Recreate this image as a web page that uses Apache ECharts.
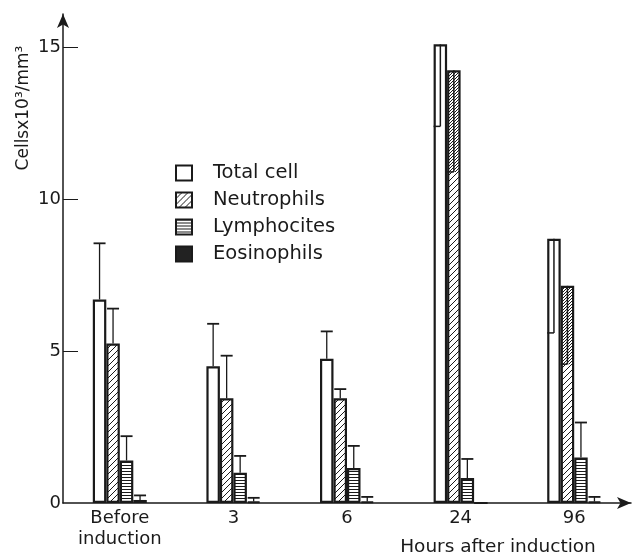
<!DOCTYPE html>
<html>
<head>
<meta charset="utf-8">
<script src="https://cdn.jsdelivr.net/npm/echarts@6/dist/echarts.min.js"></script>
<style>
html,body{margin:0;padding:0;background:#fff;}
#chart{width:637px;height:555px;}
</style>
</head>
<body>
<div id="chart"></div>
<script>
// ---- data ----
const categories = ['Before\ninduction', '3', '6', '24', '96'];
const seriesNames = ['Total cell', 'Neutrophils', 'Lymphocites', 'Eosinophils'];
const totalCell   = [6.7, 4.5, 4.75, 15.1, 8.7];
const neutrophils = [5.25, 3.45, 3.45, 14.25, 7.15];
const lymphocites = [1.4, 1.0, 1.15, 0.82, 1.5];
const eosinophils = [0.1, 0.05, 0.05, 0, 0.05];
// end value of each error bar (above the bar = upward, below the top = drawn inside the bar)
const totalErrEnd = [8.55, 5.9, 5.65, 12.4, 5.6];
const neutroErrEnd = [6.4, 4.85, 3.75, 10.9, 4.57];
const lymphoErrEnd = [2.2, 1.55, 1.88, 1.45, 2.65];
const eosErrEnd = [0.25, 0.17, 0.2, null, 0.2];
const yTicks = [0, 5, 10, 15];

// ---- styles ----
const INK = '#1a1a1a';
const FONT = 'DejaVu Sans';
const BAR_W = 13.5;

function hatchPattern(size, offset, bg) {
  const c = document.createElement('canvas');
  c.width = size; c.height = size;
  const g = c.getContext('2d');
  if (bg) { g.fillStyle = bg; g.fillRect(0, 0, size, size); }
  g.strokeStyle = INK; g.lineWidth = 1;
  g.beginPath();
  for (let d = -size; d <= 2 * size; d += size) {
    g.moveTo(d + offset - size, size);
    g.lineTo(d + offset, 0);
  }
  g.stroke();
  return c;
}
function stripePattern() {
  const c = document.createElement('canvas');
  c.width = 4; c.height = 3;
  const g = c.getContext('2d');
  g.fillStyle = '#fff'; g.fillRect(0, 0, 4, 3);
  g.fillStyle = INK; g.fillRect(0, 0, 4, 1);
  return c;
}
const hatch = { image: hatchPattern(6, 0, '#fff'), repeat: 'repeat' };
const hatch2 = { image: hatchPattern(6, 3, null), repeat: 'repeat' };
const stripes = { image: stripePattern(), repeat: 'repeat' };

const fills = ['#ffffff', hatch, stripes, '#222222'];
const values = [totalCell, neutrophils, lymphocites, eosinophils];
const errEnds = [totalErrEnd, neutroErrEnd, lymphoErrEnd, eosErrEnd];

const barSeries = seriesNames.map((name, k) => ({
  name: name,
  type: 'bar',
  barWidth: BAR_W,
  barGap: '0%',
  data: values[k],
  itemStyle: { color: fills[k], borderColor: INK, borderWidth: 2.2 },
  emphasis: { disabled: true },
  z: 2
}));

const errData = [];
errEnds.forEach((arr, k) => {
  arr.forEach((e, i) => {
    if (e !== null) errData.push([i, values[k][i], e, k]);
  });
});

function renderErr(params, api) {
  const cat = api.value(0), val = api.value(1), end = api.value(2), k = api.value(3);
  const p1 = api.coord([cat, val]);
  const p2 = api.coord([cat, end]);
  const x = p1[0] + (k - 1.5) * BAR_W;
  const children = [];
  if (end >= val) {
    children.push({ type: 'line', shape: { x1: x, y1: p1[1], x2: x, y2: p2[1] }, style: { stroke: INK, lineWidth: 1.3 } });
    children.push({ type: 'line', shape: { x1: x - 6, y1: p2[1], x2: x + 6, y2: p2[1] }, style: { stroke: INK, lineWidth: 1.8 } });
  } else {
    if (k === 1) {
      children.push({ type: 'rect', shape: { x: x - BAR_W / 2 + 1, y: p1[1] + 1, width: BAR_W - 2, height: p2[1] - p1[1] - 1 },
        style: { fill: hatch2, stroke: null } });
    }
    children.push({ type: 'line', shape: { x1: x, y1: p1[1], x2: x, y2: p2[1] }, style: { stroke: INK, lineWidth: 1.5 } });
    children.push({ type: 'line', shape: { x1: x - BAR_W / 2, y1: p2[1], x2: x, y2: p2[1] }, style: { stroke: INK, lineWidth: 1.5 } });
  }
  return { type: 'group', children: children };
}

const chart = echarts.init(document.getElementById('chart'), null, { renderer: 'canvas' });
chart.setOption({
  backgroundColor: '#ffffff',
  animation: false,
  textStyle: { fontFamily: FONT, color: INK },
  grid: { left: 63, right: 6, top: 14, bottom: 52 },
  legend: {
    data: seriesNames,
    orient: 'vertical',
    left: 175, top: 163,
    padding: 0,
    icon: 'rect',
    itemWidth: 16, itemHeight: 15, itemGap: 7,
    textStyle: { fontFamily: FONT, fontSize: 19.5, color: INK, padding: [0, 0, 0, 16] },
    selectedMode: false
  },
  xAxis: {
    type: 'category',
    data: categories,
    axisLine: { lineStyle: { color: INK, width: 1.5 }, symbol: ['none', 'arrow'], symbolSize: [9, 14] },
    axisTick: { show: false },
    axisLabel: { fontFamily: FONT, fontSize: 18, color: INK, margin: 5, lineHeight: 21 },
    splitLine: { show: false }
  },
  yAxis: {
    type: 'value',
    min: 0, max: 16.1,
    axisLine: { show: true, lineStyle: { color: INK, width: 1.5 }, symbol: ['none', 'arrow'], symbolSize: [9, 14] },
    axisTick: { show: true, inside: true, length: 15, lineStyle: { color: INK, width: 1 }, customValues: yTicks.slice(1) },
    axisLabel: { fontFamily: FONT, fontSize: 18, color: INK, margin: 2, customValues: yTicks },
    splitLine: { show: false }
  },
  graphic: [
    { type: 'text', x: 24, y: 108, rotation: Math.PI / 2,
      style: { text: 'Cellsx10³/mm³', fontFamily: FONT, fontSize: 17, fill: INK, align: 'center', verticalAlign: 'middle' } },
    { type: 'text', x: 498, y: 547,
      style: { text: 'Hours after induction', fontFamily: FONT, fontSize: 18.5, fill: INK, align: 'center', verticalAlign: 'middle' } }
  ],
  series: barSeries.concat([{
    type: 'custom',
    name: 'errors',
    renderItem: renderErr,
    data: errData,
    z: 5,
    silent: true
  }])
});
</script>
</body>
</html>
